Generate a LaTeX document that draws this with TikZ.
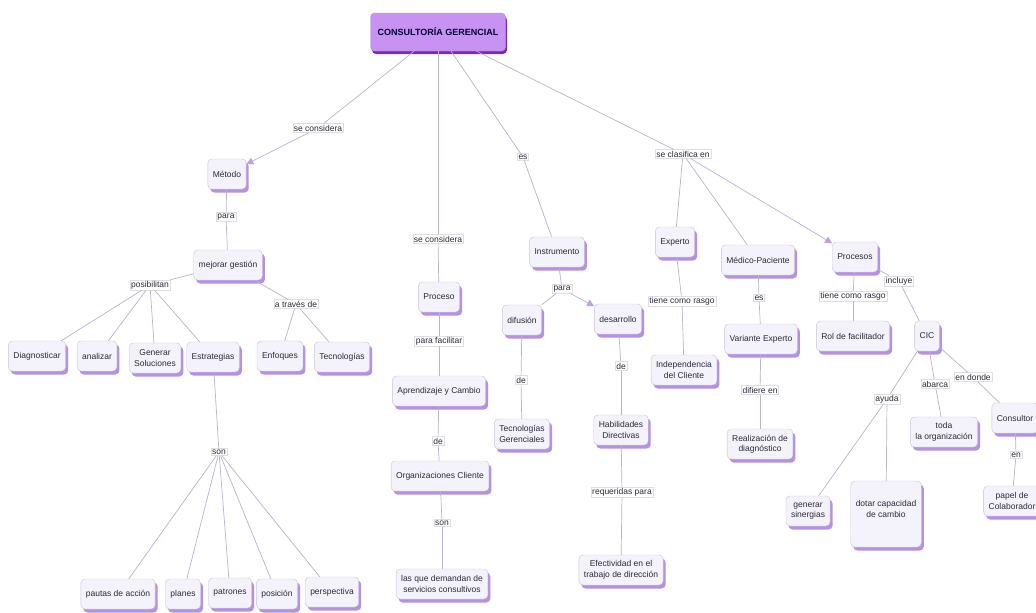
\documentclass[tikz,border=0pt]{standalone}
\usepackage{fontspec}
\setmainfont{Liberation Sans}
\usetikzlibrary{shadows,arrows.meta}
\definecolor{boxfill}{HTML}{F4F2FA}
\definecolor{boxdraw}{HTML}{C8C4D8}
\definecolor{shad}{HTML}{AE86DE}
\definecolor{rootfill}{HTML}{C792F2}
\definecolor{rootshad}{HTML}{7A2BB0}
\definecolor{edgecol}{HTML}{B9B3CF}
\definecolor{txt}{HTML}{2A2A3A}
\begin{document}
\begin{tikzpicture}[x=1pt,y=-1pt,
 cbox/.style={rectangle, rounded corners=4pt, draw=boxdraw, fill=boxfill,
   drop shadow={shadow xshift=2.5pt, shadow yshift=-3.5pt, fill=shad, opacity=0.9},
   font=\fontsize{8.5}{10.5}\selectfont, text=txt, align=center,
   inner xsep=5pt, inner ysep=4pt, minimum height=30pt},
 lbl/.style={fill=white, draw=gray!25, inner sep=1.2pt,
   font=\fontsize{8.5}{10}\selectfont, text=txt},
 con/.style={draw=edgecol, line width=0.7pt},
 arr/.style={con, -{Triangle[length=7pt,width=7pt,fill=shad!80,color=shad!80]}},
 rootbox/.style={rectangle, rounded corners=4pt, draw=rootshad!50, fill=rootfill,
   drop shadow={shadow xshift=1.5pt, shadow yshift=-3pt, fill=rootshad, opacity=1},
   font=\fontsize{9}{11}\selectfont\bfseries, text=black!80!blue,
   minimum width=135pt, minimum height=38pt}
]
\path[use as bounding box, fill=white] (0,0) rectangle (1036,613);

% root
\node[rootbox] (root) at (438,32) {CONSULTORÍA GERENCIAL};

% left branch
\node[lbl] (l1) at (318,128) {se considera};
\node[cbox] (metodo) at (227,174) {Método};
\node[lbl] (l2) at (226,217) {para};
\node[cbox] (mejorar) at (228,265) {mejorar gestión};
\node[lbl] (posib) at (150,285) {posibilitan};
\node[lbl] (atraves) at (296,304) {a través de};
\node[cbox] (diag) at (37,356) {Diagnosticar};
\node[cbox] (anal) at (97,356) {analizar};
\node[cbox] (gensol) at (155,358) {Generar\\Soluciones};
\node[cbox] (estr) at (213,357) {Estrategias};
\node[cbox] (enf) at (280,356) {Enfoques};
\node[cbox] (tec) at (342,357) {Tecnologías};
\node[lbl] (son1) at (219,452) {son};
\node[cbox] (pautas) at (118,594) {pautas de acción};
\node[cbox] (planes) at (183,594) {planes};
\node[cbox] (patr) at (230,593) {patrones};
\node[cbox] (pos) at (277,594) {posición};
\node[cbox] (persp) at (332,592) {perspectiva};

% middle branch
\node[lbl] (sc2) at (438,239) {se considera};
\node[cbox] (proceso) at (439,297) {Proceso};
\node[lbl] (pf) at (439,341) {para facilitar};
\node[cbox] (aprend) at (439,391) {Aprendizaje y Cambio};
\node[lbl] (de1) at (438,441) {de};
\node[cbox] (org) at (440,476) {Organizaciones Cliente};
\node[lbl] (son2) at (442,523) {son};
\node[cbox] (demand) at (442,584) {las que demandan de\\servicios consultivos};

% instrument branch
\node[lbl] (es1) at (523,157) {es};
\node[cbox] (instr) at (557,252) {Instrumento};
\node[lbl] (para2) at (562,289) {para};
\node[cbox] (difus) at (522,320) {difusión};
\node[cbox] (desarr) at (618,319) {desarrollo};
\node[lbl] (de2) at (521,380) {de};
\node[cbox] (tecger) at (522,434) {Tecnologías\\Gerenciales};
\node[lbl] (de3) at (621,366) {de};
\node[cbox] (habil) at (621,430) {Habilidades\\Directivas};
\node[lbl] (req) at (622,492) {requeridas para};
\node[cbox] (efect) at (621,570) {Efectividad en el\\trabajo de dirección};

% right branch
\node[lbl] (clas) at (683,154) {se clasifica en};
\node[cbox] (experto) at (675,242) {Experto};
\node[cbox] (medico) at (758,260) {Médico-Paciente};
\node[cbox] (procesos) at (855,257) {Procesos};
\node[lbl] (tcr1) at (682,301) {tiene como rasgo};
\node[cbox] (indep) at (684,370) {Independencia\\del Cliente};
\node[lbl] (es2) at (759,298) {es};
\node[cbox] (variante) at (761,339) {Variante Experto};
\node[lbl] (dif) at (760,390) {difiere en};
\node[cbox] (realiz) at (760,444) {Realización de\\diagnóstico};
\node[lbl] (tcr2) at (853,296) {tiene como rasgo};
\node[lbl] (incl) at (899,281) {incluye};
\node[cbox] (rol) at (853,336) {Rol de facilitador};
\node[cbox] (cic) at (927,336) {CIC};
\node[lbl] (ayuda) at (887,399) {ayuda};
\node[lbl] (abarca) at (935,384) {abarca};
\node[lbl] (endonde) at (973,377) {en donde};
\node[cbox] (toda) at (944,432) {toda\\la organización};
\node[cbox] (consultor) at (1015,418) {Consultor};
\node[lbl] (en) at (1016,455) {en};
\node[cbox] (papel) at (1012,501) {papel de\\Colaborador};
\node[cbox] (siner) at (808,511) {generar\\sinergias};
\node[cbox, minimum height=66pt] (dotar) at (886,514) {dotar capacidad\\de cambio\\~};

% connectors
\foreach \a/\b in {root/l1, root/sc2, sc2/proceso, root/es1, es1/instr, root/clas,
  clas/experto, clas/medico, metodo/l2, l2/mejorar, mejorar/posib,
  posib/diag, posib/anal, posib/gensol, posib/estr, mejorar/atraves,
  atraves/enf, atraves/tec, estr/son1, son1/pautas, son1/planes, son1/patr,
  son1/pos, son1/persp, proceso/pf, pf/aprend, aprend/de1, de1/org, org/son2,
  son2/demand, instr/para2, para2/difus, difus/de2, de2/tecger, desarr/de3,
  de3/habil, habil/req, req/efect, experto/tcr1, tcr1/indep, medico/es2,
  es2/variante, variante/dif, dif/realiz, procesos/tcr2, tcr2/rol,
  procesos/incl, incl/cic, cic/ayuda, ayuda/siner, ayuda/dotar, cic/abarca,
  abarca/toda, cic/endonde, endonde/consultor, consultor/en, en/papel}
  \draw[con] (\a) -- (\b);
\draw[arr] (l1) -- (metodo);
\draw[arr] (para2) -- (desarr);
\draw[arr] (clas) -- (procesos);
\end{tikzpicture}
\end{document}
